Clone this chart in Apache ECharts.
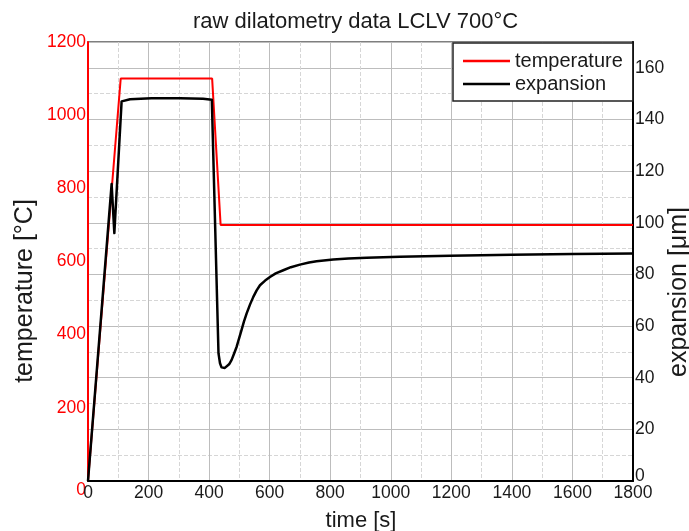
<!DOCTYPE html>
<html>
<head>
<meta charset="utf-8">
<script src="https://cdn.jsdelivr.net/npm/echarts@6/dist/echarts.min.js"></script>
<style>
html,body{margin:0;padding:0;background:#fff;}
#chart{width:689px;height:531px;}
</style>
</head>
<body>
<div id="chart"></div>
<script>
// ---- data ----
const tempTime = [0, 108, 410, 438, 1800];
const temperature = [0, 1100, 1100, 700, 700];

const expTime = [0, 78, 87, 111, 139, 210, 304, 380, 409, 431, 436, 441, 445, 452, 458, 466, 474, 482, 491, 499, 507, 515, 524, 535, 546, 557, 568, 585, 601, 620, 645, 670, 700, 730, 755, 810, 860, 920, 1030, 1196, 1400, 1600, 1800];
const expansion = [0, 115, 96, 147, 147.8, 148.2, 148.2, 148, 147.6, 49.4, 45.6, 44.0, 43.6, 43.8, 44.2, 45.2, 46.8, 49.2, 52, 55.2, 58.4, 61.7, 64.9, 68.3, 71.3, 73.8, 75.8, 77.6, 79, 80.4, 81.6, 82.8, 83.8, 84.6, 85.1, 85.8, 86.2, 86.5, 86.8, 87.2, 87.6, 87.9, 88.1];

const seriesNames = ['temperature', 'expansion'];
const titleText = 'raw dilatometry data LCLV 700°C';
const xName = 'time [s]';
const yLeftName = 'temperature [°C]';
const yRightName = 'expansion [μm]';

const FONT = 'Liberation Sans, Arial, sans-serif';
const TXT = '#1a1a1a';

const zip = (a, b) => a.map((v, i) => [v, b[i]]);

const chart = echarts.init(document.getElementById('chart'), null, {renderer: 'canvas'});
const option = {
  animation: false,
  backgroundColor: '#fff',
  textStyle: {fontFamily: FONT},
  title: {
    text: titleText,
    left: 193, top: 11, padding: 0,
    textStyle: {fontFamily: FONT, fontSize: 22, fontWeight: 'normal', color: TXT}
  },
  grid: {
    left: 88, right: 56, top: 42, bottom: 50,
    show: true, borderColor: '#555', borderWidth: 1.5, backgroundColor: '#fff'
  },
  legend: {
    orient: 'vertical', left: 453, top: 43,
    backgroundColor: '#fff', borderColor: '#222', borderWidth: 1.5,
    padding: [8, 10, 7, 10],
    icon: 'rect',
    itemWidth: 47, itemHeight: 2.5, itemGap: 3,
    textStyle: {fontFamily: FONT, fontSize: 20, color: TXT, lineHeight: 20},
    data: seriesNames
  },
  xAxis: {
    type: 'value', min: 0, max: 1800, interval: 200,
    axisLine: {show: true, onZero: false, lineStyle: {color: '#000', width: 2}},
    axisTick: {show: false},
    axisLabel: {color: TXT, fontSize: 17.5, fontFamily: FONT, margin: 3, formatter: v => String(v)},
    splitLine: {show: true, lineStyle: {color: '#bdbdbd', width: 1}},
    minorTick: {show: false, splitNumber: 2},
    minorSplitLine: {show: true, lineStyle: {color: '#d6d6d6', width: 1, type: 'dashed'}}
  },
  yAxis: [
    {
      type: 'value', min: 0, max: 1200, interval: 200, position: 'left',
      axisLine: {show: true, onZero: false, lineStyle: {color: '#ff0000', width: 2}},
      axisTick: {show: false},
      splitLine: {show: false},
      axisLabel: {
        color: '#ff0000', fontSize: 17.5, fontFamily: FONT, margin: 2,
        formatter: v => v === 0 ? '{z|0}' : String(v),
        rich: {z: {color: '#ff0000', fontSize: 17.5, fontFamily: FONT, padding: [18, 0, 0, 0]}}
      }
    },
    {
      // minor (dashed) horizontal grid, every 10 µm, no visible axis
      type: 'value', min: 0, max: 170, interval: 10, position: 'right',
      axisLine: {show: false}, axisTick: {show: false}, axisLabel: {show: false},
      splitLine: {show: true, lineStyle: {color: '#d6d6d6', width: 1, type: 'dashed'}}
    },
    {
      type: 'value', min: 0, max: 170, interval: 20, position: 'right',
      axisLine: {show: true, onZero: false, lineStyle: {color: '#000', width: 2}},
      axisTick: {show: false},
      splitLine: {show: true, lineStyle: {color: '#bdbdbd', width: 1}},
      axisLabel: {
        color: TXT, fontSize: 17.5, fontFamily: FONT, margin: 2, showMaxLabel: false,
        formatter: v => v === 0 ? '{z|0}' : String(v),
        rich: {z: {color: TXT, fontSize: 17.5, fontFamily: FONT, padding: [0, 0, 9, 0]}}
      }
    }
  ],
  graphic: [
    {type: 'text', x: 25, y: 291, rotation: Math.PI / 2,
     style: {text: yLeftName, fontSize: 25, fontFamily: FONT, fill: TXT, align: 'center', verticalAlign: 'middle'}},
    {type: 'text', x: 679, y: 292, rotation: Math.PI / 2,
     style: {text: yRightName, fontSize: 25, fontFamily: FONT, fill: TXT, align: 'center', verticalAlign: 'middle'}},
    {type: 'text', x: 361, y: 521,
     style: {text: xName, fontSize: 22, fontFamily: FONT, fill: TXT, align: 'center', verticalAlign: 'middle'}}
  ],
  series: [
    {
      name: seriesNames[0], type: 'line', xAxisIndex: 0, yAxisIndex: 0,
      data: zip(tempTime, temperature), symbol: 'none', showSymbol: false,
      lineStyle: {color: '#ff0000', width: 2}, itemStyle: {color: '#ff0000'}, z: 3
    },
    {
      name: seriesNames[1], type: 'line', xAxisIndex: 0, yAxisIndex: 2,
      data: zip(expTime, expansion), symbol: 'none', showSymbol: false,
      lineStyle: {color: '#000', width: 2.5, join: 'round'}, itemStyle: {color: '#000'}, z: 4
    }
  ]
};
chart.setOption(option);
</script>
</body>
</html>
